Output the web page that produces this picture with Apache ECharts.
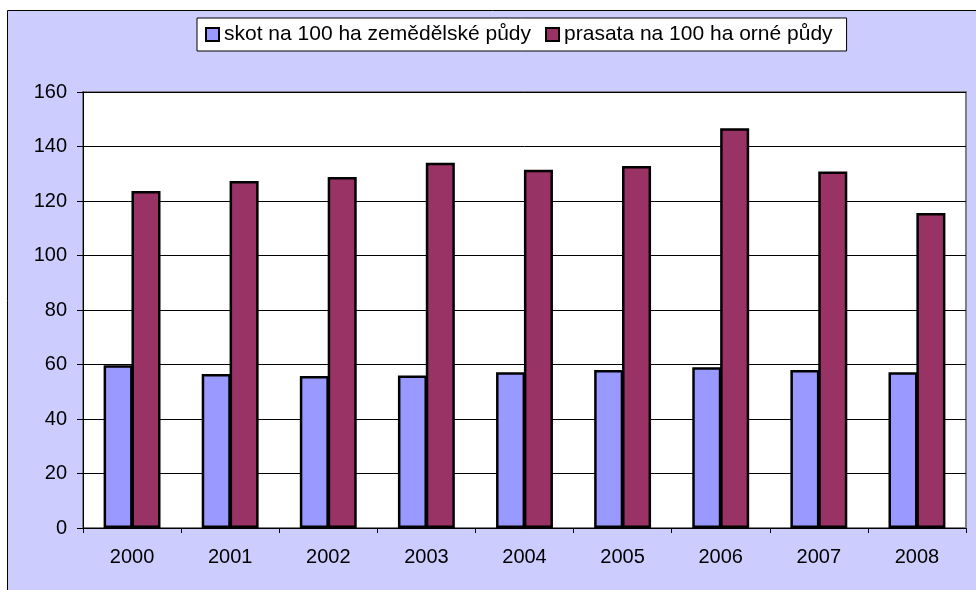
<!DOCTYPE html>
<html>
<head>
<meta charset="utf-8">
<script src="https://cdn.jsdelivr.net/npm/echarts@6/dist/echarts.min.js"></script>
<style>
  html, body { margin: 0; padding: 0; background: #fff; }
  #chart { width: 976px; height: 590px; }
</style>
</head>
<body>
<div id="chart"></div>
<script>
// roky a hodnoty
var years = ['2000', '2001', '2002', '2003', '2004', '2005', '2006', '2007', '2008'];
var skot = [59.7, 56.5, 55.8, 56.0, 57.2, 58.0, 59.0, 58.0, 57.2];
var prasata = [123.7, 127.3, 128.8, 134.0, 131.5, 132.8, 146.7, 130.8, 115.6];
var seriesNames = ['skot na 100 ha zemědělské půdy', 'prasata na 100 ha orné půdy'];

var chart = echarts.init(document.getElementById('chart'), null, { renderer: 'canvas' });

chart.setOption({
  animation: false,
  textStyle: { fontFamily: 'Liberation Sans, Arial, sans-serif' },
  graphic: [{
    type: 'rect',
    z: -100,
    silent: true,
    shape: { x: 7.5, y: 10.5, width: 980, height: 600 },
    style: { fill: '#CCCCFF', stroke: '#000', lineWidth: 1 }
  }],
  legend: {
    left: 197,
    top: 18,
    orient: 'horizontal',
    icon: 'rect',
    itemWidth: 13,
    itemHeight: 13,
    itemGap: 14,
    padding: [6, 14, 6, 8],
    backgroundColor: '#fff',
    borderColor: '#000',
    borderWidth: 1,
    textStyle: { fontSize: 21, color: '#000' },
    data: seriesNames
  },
  grid: {
    left: 83,
    top: 92,
    right: 10,
    bottom: 62,
    show: true,
    backgroundColor: '#fff',
    borderColor: '#808080',
    borderWidth: 2,
    containLabel: false
  },
  xAxis: {
    type: 'category',
    data: years,
    axisLine: { show: true, lineStyle: { color: '#000', width: 1 } },
    axisTick: { show: true, inside: false, length: 5, lineStyle: { color: '#000' } },
    axisLabel: { fontSize: 20, color: '#000', margin: 19 },
    splitLine: { show: false }
  },
  yAxis: {
    type: 'value',
    min: 0,
    max: 160,
    interval: 20,
    axisLine: { show: true, lineStyle: { color: '#000', width: 1 } },
    axisTick: { show: true, inside: false, length: 6, lineStyle: { color: '#000' } },
    axisLabel: { fontSize: 20, color: '#000', margin: 16 },
    splitLine: { show: true, lineStyle: { color: '#000', width: 1 } }
  },
  series: [{
    name: seriesNames[0],
    type: 'bar',
    data: skot,
    barGap: '-4%',
    barCategoryGap: '42%',
    itemStyle: { color: '#9999FF', borderColor: '#000', borderWidth: 2.5 }
  }, {
    name: seriesNames[1],
    type: 'bar',
    data: prasata,
    barGap: '-4%',
    barCategoryGap: '42%',
    itemStyle: { color: '#993366', borderColor: '#000', borderWidth: 2.5 }
  }]
});
</script>
</body>
</html>
